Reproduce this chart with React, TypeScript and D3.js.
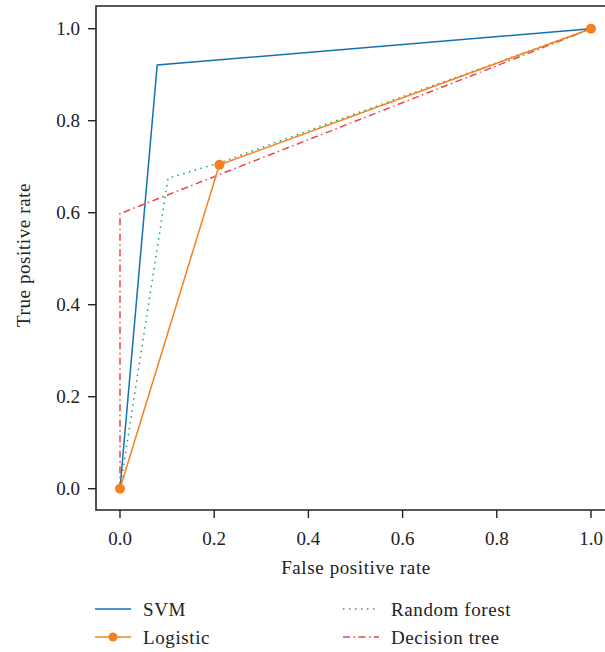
import React from "react";
import * as d3 from "d3";

const svmX = [0, 0.079, 1];
const svmY = [0, 0.921, 1];
const logX = [0, 0.211, 1];
const logY = [0, 0.704, 1];
const rfX = [0, 0.102, 0.21, 1];
const rfY = [0, 0.675, 0.708, 1];
const dtX = [0, 0, 1];
const dtY = [0, 0.598, 1];
const ticks = [0, 0.2, 0.4, 0.6, 0.8, 1.0];

const W = 605, H = 652;
const FONT = "'Liberation Serif', 'DejaVu Serif', serif";

export default function App() {
  const x = d3.scaleLinear().domain([0, 1]).range([120, 591]);
  const y = d3.scaleLinear().domain([0, 1]).range([488.7, 28.7]);
  const line = d3.line<[number, number]>().x(d => x(d[0])).y(d => y(d[1]));
  const pts = (xs: number[], ys: number[]) => xs.map((v, i) => [v, ys[i]] as [number, number]);

  const series = [
    { name: "SVM", xs: svmX, ys: svmY, color: "#1273b3", dash: "", marker: false },
    { name: "Random forest", xs: rfX, ys: rfY, color: "#12a37c", dash: "1.5,4.5", marker: false },
    { name: "Decision tree", xs: dtX, ys: dtY, color: "#e8464b", dash: "7,3.5,1.5,3.5", marker: false },
    { name: "Logistic", xs: logX, ys: logY, color: "#f5821f", dash: "", marker: true },
  ];
  const left = 96, top = 6, bottom = 510;
  const legend = [
    { s: series[0], lx: 95, ly: 609 },
    { s: series[3], lx: 95, ly: 637 },
    { s: series[1], lx: 343, ly: 609 },
    { s: series[2], lx: 343, ly: 637 },
  ];
  return (
    <svg width={W} height={H} style={{ position: "absolute", left: 0, top: 0, background: "#fff" }} fontFamily={FONT}>
      <rect width={W} height={H} fill="#fff" />
      {series.map(s => (
        <g key={s.name}>
          <path d={line(pts(s.xs, s.ys)) || ""} fill="none" stroke={s.color} strokeWidth={1.5} strokeDasharray={s.dash || undefined} />
          {s.marker && s.xs.map((v, i) => <circle key={i} cx={x(v)} cy={y(s.ys[i])} r={5} fill={s.color} />)}
        </g>
      ))}
      <path d={`M${W + 10},${top}H${left}V${bottom}H${W + 10}`} fill="none" stroke="#222" strokeWidth={1.6} />
      {ticks.map(t => (
        <g key={"y" + t}>
          <line x1={left - 8} x2={left} y1={y(t)} y2={y(t)} stroke="#222" strokeWidth={1.4} />
          <text x={left - 16} y={y(t)} dy="0.35em" textAnchor="end" fontSize={19} fill="#222">{t.toFixed(1)}</text>
        </g>
      ))}
      {ticks.map(t => (
        <g key={"x" + t}>
          <line x1={x(t)} x2={x(t)} y1={bottom} y2={bottom + 8} stroke="#222" strokeWidth={1.4} />
          <text x={x(t)} y={538} dy="0.35em" textAnchor="middle" fontSize={19} fill="#222">{t.toFixed(1)}</text>
        </g>
      ))}
      <text x={356} y={567} dy="0.35em" textAnchor="middle" fontSize={19} letterSpacing={0.6} fill="#222">False positive rate</text>
      <text transform={`translate(23,255) rotate(-90)`} dy="0.35em" textAnchor="middle" fontSize={19} letterSpacing={0.6} fill="#222">True positive rate</text>
      {legend.map(({ s, lx, ly }) => (
        <g key={"lg" + s.name}>
          <line x1={lx} x2={lx + 36} y1={ly} y2={ly} stroke={s.color} strokeWidth={1.5} strokeDasharray={s.dash || undefined} />
          {s.marker && <circle cx={lx + 18} cy={ly} r={4.5} fill={s.color} />}
          <text x={lx + 48} y={ly} dy="0.35em" fontSize={19} letterSpacing={0.6} fill="#222">{s.name}</text>
        </g>
      ))}
    </svg>
  );
}
